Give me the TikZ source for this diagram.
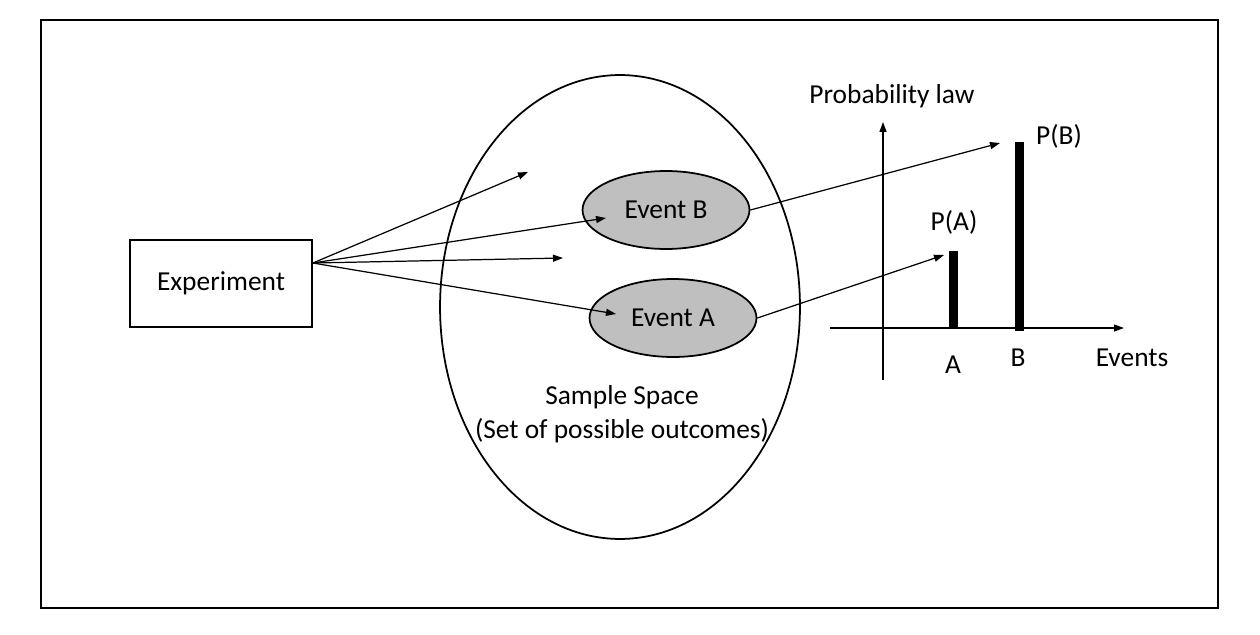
\documentclass[tikz,border=0pt]{standalone}
\usepackage{fontspec}
\setmainfont{Carlito}
\usetikzlibrary{arrows.meta, shapes.geometric, positioning}

\tikzset{
    event/.style = {ellipse, draw, line width=1pt, fill=black!25,
        minimum width=3.34cm, minimum height=1.56cm, inner sep=0pt},
    bar/.style = {fill=black, minimum width=0.18cm, inner sep=0pt,
        anchor=south}
}

\begin{document}
\begin{tikzpicture} [x=0.02cm, y=-0.02cm,
            line width=0.7pt,
            font=\fontsize{15.6}{19}\selectfont,
            >={Triangle[length=2mm, width=1.4mm]}]

        \useasboundingbox (0,0) rectangle (1260,635);

        % Frame
        \draw [line width=1.2pt] (41,20) rectangle (1218,608);

        % Experiment
        \node (exp) [draw, line width=1pt,
            minimum width=3.64cm,
            minimum height=1.74cm] at (221,283.5) {Experiment};

        % Sample space
        \node (space) [ellipse, draw, line width=1pt,
            minimum width=7.2cm,
            minimum height=9.28cm,
            inner sep=0pt] at (620,307) {};

        % Event B
        \node (evB) [event] at (666,210) {Event B};

        % Event A
        \node (evA) [event] at (673,318) {Event A};

        \node (sslabel) [align=center] at (622,414)
            {Sample Space\\(Set of possible outcomes)};

        % Outcomes
        \coordinate (src) at ([yshift=0.41cm]exp.east);
        \coordinate (out1) at (528,172);
        \coordinate (out2) at (606,218);
        \coordinate (out3) at (563,258);
        \coordinate (out4) at (616,314);

        % Axes
        \coordinate (xfrom) at (830,328);
        \coordinate (xto) at (1124,328);
        \coordinate (yfrom) at (883,380);
        \coordinate (yto) at (883,122);

        % Bars
        \node (barA) [bar, minimum height=1.52cm] at (953.5,328) {};
        \node (barB) [bar, minimum height=3.78cm] at (1019.5,332) {};
        \coordinate (tipA) at (944,255);
        \coordinate (tipB) at (1000,143);

        % Labels
        \node (law) at (892,96) {Probability law};
        \node (pA) at (954,222) {P(A)};
        \node (pB) at (1059,136) {P(B)};
        \node (lA) at (953,365) {A};
        \node (lB) at (1018,358) {B};
        \node (lev) at (1132,358) {Events};

        % Arrows
        \path [->]
            (src) edge (out1)
            (src) edge (out2)
            (src) edge (out3)
            (src) edge (out4)
            (evB.east) edge (tipB)
            (evA.east) edge (tipA)
            (xfrom) edge (xto)
            (yfrom) edge (yto)
            ;
        \end{tikzpicture}
\end{document}
